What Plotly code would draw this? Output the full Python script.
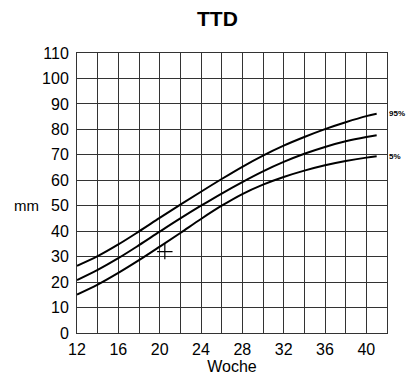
import plotly.graph_objects as go

weeks = [12, 14, 16, 18, 20, 22, 24, 26, 28, 30, 32, 34, 36, 38, 40, 41]
p95 = [26.4, 30.2, 34.8, 39.9, 45.2, 50.4, 55.5, 60.5, 65.3, 69.7, 73.6, 77.0, 80.1, 82.8, 85.2, 86.1]
p50 = [20.8, 24.8, 29.4, 34.5, 39.8, 45.0, 50.0, 54.8, 59.3, 63.5, 67.2, 70.4, 73.1, 75.3, 77.0, 77.7]
p5 = [15.1, 19.0, 23.6, 28.6, 33.9, 39.3, 44.8, 50.0, 54.6, 58.3, 61.3, 63.8, 65.9, 67.6, 68.9, 69.4]
measure_week = [20.5]
measure_mm = [32]

FONT = "Liberation Sans, Arial, sans-serif"
fig = go.Figure()
for ys in (p95, p50, p5):
    fig.add_trace(go.Scatter(x=weeks, y=ys, mode="lines", line=dict(color="black", width=2, shape="spline"),
                             showlegend=False, hoverinfo="skip"))
fig.add_trace(go.Scatter(x=measure_week, y=measure_mm, mode="markers",
                         marker=dict(symbol="cross-thin", size=11, line=dict(color="black", width=1.2)),
                         showlegend=False, hoverinfo="skip"))

fig.add_annotation(xref="paper", x=1.0, y=p95[-1], text="<b>95%</b>", showarrow=False, xanchor="left",
                   xshift=0, font=dict(size=8, color="black", family=FONT))
fig.add_annotation(xref="paper", x=1.0, y=p5[-1], text="<b>5%</b>", showarrow=False, xanchor="left",
                   xshift=0, font=dict(size=8, color="black", family=FONT))
fig.add_annotation(xref="paper", x=-0.115, y=50, text="mm", showarrow=False,
                   xanchor="right", font=dict(size=15, color="black", family=FONT))
fig.add_annotation(xref="paper", yref="paper", x=0.453, y=1.0, yshift=35, text="<b>TTD</b>", showarrow=False,
                   xanchor="center", yanchor="middle", font=dict(size=21, color="black", family=FONT))

fig.update_layout(
    width=408, height=381,
    margin=dict(l=77, r=21, t=53, b=46),
    paper_bgcolor="white", plot_bgcolor="white",
    font=dict(family=FONT, color="black", size=16),
    xaxis=dict(range=[12, 42], tick0=12, dtick=4, showgrid=True, gridcolor="#333", gridwidth=1,
               minor=dict(dtick=2, tick0=12, showgrid=True, gridcolor="#333", gridwidth=1),
               showline=True, linecolor="#333", mirror=True, zeroline=False, ticks="",
               ticklabelstandoff=2,
               title=dict(text="Woche", standoff=0, font=dict(size=16))),
    yaxis=dict(range=[0, 110], tick0=0, dtick=10, showgrid=True, gridcolor="#333", gridwidth=1,
               showline=True, linecolor="#333", mirror=True, zeroline=False, ticks="",
               ticklabelstandoff=4),
)
fig.write_html("out.html", config={"displayModeBar": False},
               post_script="document.body.style.margin='0';document.body.style.overflow='hidden';")
